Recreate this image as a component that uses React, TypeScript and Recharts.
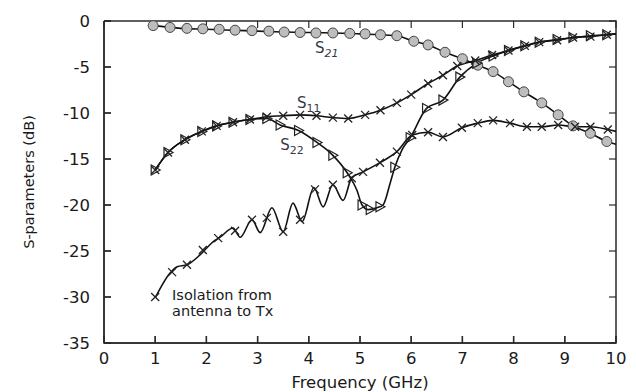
import { ComposedChart, Line, Scatter, XAxis, YAxis, ReferenceDot, Label } from "recharts";

// axis ranges and ticks
const xDomain = [0, 10];
const yDomain = [-35, 0];
const xTicks = [0, 1, 2, 3, 4, 5, 6, 7, 8, 9, 10];
const yTicks = [0, -5, -10, -15, -20, -25, -30, -35];

// traces as [GHz, dB]
const s21Line = [
  [1.0, -0.5], [1.5, -0.8], [2.0, -0.9], [2.5, -1.0], [3.0, -1.1], [3.5, -1.2], [4.0, -1.25],
  [4.5, -1.3], [5.0, -1.4], [5.4, -1.5], [5.72, -1.6], [6.05, -2.2], [6.33, -2.6], [6.66, -3.4],
  [7.0, -4.1], [7.3, -4.8], [7.6, -5.5], [7.9, -6.6], [8.2, -7.7], [8.55, -8.9], [8.87, -10.2],
  [9.16, -11.4], [9.5, -12.2], [9.82, -13.1], [10.0, -13.4],
];
const s21Marks = [
  [0.96, -0.5], [1.29, -0.7], [1.62, -0.8], [1.93, -0.85], [2.25, -0.9], [2.56, -1.0], [2.89, -1.05],
  [3.22, -1.1], [3.52, -1.2], [3.83, -1.25], [4.14, -1.3], [4.47, -1.3], [4.8, -1.35], [5.1, -1.4],
  [5.4, -1.5], [5.72, -1.6], [6.05, -2.2], [6.33, -2.6], [6.66, -3.4], [7.0, -4.1], [7.3, -4.8],
  [7.6, -5.5], [7.9, -6.6], [8.2, -7.7], [8.55, -8.9], [8.87, -10.2], [9.16, -11.4], [9.5, -12.2],
  [9.82, -13.1],
];

const s11Line = [
  [1.0, -16.2], [1.25, -14.3], [1.58, -12.9], [1.91, -12.0], [2.2, -11.4], [2.52, -11.0],
  [2.85, -10.7], [3.18, -10.4], [3.5, -10.3], [3.83, -10.2], [4.15, -10.3], [4.47, -10.5],
  [4.77, -10.6], [5.1, -10.2], [5.4, -9.7], [5.72, -8.9], [6.0, -8.0], [6.33, -6.8], [6.62, -5.9],
  [6.9, -4.9], [7.25, -4.3], [7.58, -3.7], [7.9, -3.2], [8.22, -2.7], [8.5, -2.3], [8.85, -2.1],
  [9.16, -1.8], [9.5, -1.7], [9.82, -1.5], [10.0, -1.4],
];
const s11Marks = [
  [1.0, -16.2], [1.25, -14.3], [1.58, -12.9], [1.91, -12.0], [2.2, -11.4], [2.52, -11.0],
  [2.85, -10.7], [3.18, -10.4], [3.5, -10.3], [3.83, -10.2], [4.15, -10.3], [4.47, -10.5],
  [4.77, -10.6], [5.1, -10.2], [5.4, -9.7], [5.72, -8.9], [6.0, -8.0], [6.33, -6.8], [6.62, -5.9],
  [6.9, -4.9], [7.25, -4.3], [7.58, -3.7], [7.9, -3.2], [8.22, -2.7], [8.5, -2.3], [8.85, -2.1],
  [9.16, -1.8], [9.5, -1.7], [9.82, -1.5],
];

const s22Line = [
  [1.0, -16.2], [1.25, -14.3], [1.58, -12.9], [1.91, -12.0], [2.2, -11.4], [2.52, -11.0],
  [2.85, -10.7], [3.18, -10.6], [3.44, -11.3], [3.8, -11.9], [4.16, -13.2], [4.47, -14.6],
  [4.75, -16.5], [4.94, -18.4], [5.04, -20.0], [5.16, -20.5], [5.33, -20.3], [5.45, -20.0],
  [5.59, -17.6], [5.68, -15.9], [5.82, -14.0], [5.98, -12.7], [6.3, -9.5], [6.62, -8.6],
  [6.95, -6.1], [7.28, -4.6], [7.6, -3.8], [7.9, -3.2], [8.22, -2.7], [8.5, -2.3], [8.85, -2.0],
  [9.16, -1.8], [9.5, -1.6], [9.82, -1.5], [10.0, -1.4],
];
const s22Marks = [
  [1.0, -16.2], [1.25, -14.3], [1.58, -12.9], [1.91, -12.0], [2.2, -11.4], [2.52, -11.0],
  [2.85, -10.7], [3.18, -10.6], [3.44, -11.3], [3.8, -11.9], [4.16, -13.2], [4.47, -14.6],
  [4.75, -16.5], [5.04, -20.0], [5.2, -20.5], [5.39, -20.2], [5.68, -15.9], [5.98, -12.7],
  [6.3, -9.5], [6.62, -8.6], [6.95, -6.1], [7.28, -4.6], [7.6, -3.8], [7.9, -3.2], [8.22, -2.7],
  [8.5, -2.3], [8.85, -2.0], [9.16, -1.8], [9.5, -1.6], [9.82, -1.5],
];

const isoLine = [
  [1.0, -30.1], [1.29, -27.4], [1.43, -26.7], [1.62, -26.5], [1.88, -25.4], [2.13, -24.0],
  [2.27, -23.5], [2.52, -22.5], [2.66, -23.5], [2.89, -21.6], [3.05, -23.0], [3.28, -20.3],
  [3.5, -22.9], [3.69, -19.8], [3.87, -21.8], [4.1, -18.1], [4.28, -20.2], [4.47, -17.8],
  [4.67, -19.5], [4.84, -17.0], [5.06, -16.4], [5.39, -15.4], [5.72, -14.2], [6.02, -12.4],
  [6.33, -12.1], [6.62, -12.6], [6.99, -11.6], [7.3, -11.1], [7.6, -10.8], [7.93, -11.1],
  [8.26, -11.5], [8.55, -11.5], [8.87, -11.3], [9.2, -11.5], [9.5, -11.5], [9.84, -11.8],
  [10.0, -12.0],
];
const isoMarks = [
  [1.0, -30.0], [1.33, -27.3], [1.62, -26.5], [1.93, -24.9], [2.23, -23.6], [2.56, -22.8],
  [2.89, -21.6], [3.18, -21.4], [3.5, -22.9], [3.83, -21.6], [4.12, -18.3], [4.47, -17.8],
  [4.84, -17.1], [5.06, -16.4], [5.39, -15.4], [5.72, -14.2], [6.02, -12.4], [6.33, -12.1],
  [6.62, -12.6], [6.99, -11.6], [7.3, -11.1], [7.6, -10.8], [7.93, -11.1], [8.26, -11.5],
  [8.55, -11.5], [8.87, -11.3], [9.2, -11.5], [9.5, -11.5], [9.84, -11.8],
];

const pts = (a: number[][]) => a.map(([f, db]) => ({ f, db }));

// built once so recharts sees stable references
const s21LineData = pts(s21Line);
const s21MarkData = pts(s21Marks);
const s11LineData = pts(s11Line);
const s11MarkData = pts(s11Marks);
const s22LineData = pts(s22Line);
const s22MarkData = pts(s22Marks);
const isoLineData = pts(isoLine);
const isoMarkData = pts(isoMarks);

// gnuplot-style box with inward ticks on every side, placed through the scales
const [x0, x1] = xDomain;
const [y0, y1] = yDomain;
const frameData = pts([[x0, y1], [x1, y1], [x1, y0], [x0, y0], [x0, y1]]);
const topTicks = xTicks.map((f) => ({ f, db: y1 }));
const bottomTicks = xTicks.map((f) => ({ f, db: y0 }));
const leftTicks = yTicks.map((db) => ({ f: x0, db }));
const rightTicks = yTicks.map((db) => ({ f: x1, db }));

const FONT = "DejaVu Sans";
const INK = "#1a1a1a";
const FRAME = "#2b2b2b";
const TICK = 7;
const tickFont = { fill: INK, fontSize: 16.5, fontFamily: FONT };

const tickMark = (dx: number, dy: number) => (p: any) => (
  <line x1={p.cx} y1={p.cy} x2={p.cx + dx} y2={p.cy + dy} stroke={FRAME} strokeWidth={1.2} />
);
const TopTick = tickMark(0, TICK);
const BottomTick = tickMark(0, -TICK);
const LeftTick = tickMark(TICK, 0);
const RightTick = tickMark(-TICK, 0);

const CircleMark = (p: any) => (
  <circle cx={p.cx} cy={p.cy} r={5} fill="#bdbdbd" stroke="#444444" strokeWidth={1} />
);
const CrossMark = (p: any) => {
  const { cx, cy } = p;
  const s = 4;
  return (
    <path
      d={`M${cx - s},${cy - s}L${cx + s},${cy + s}M${cx - s},${cy + s}L${cx + s},${cy - s}`}
      stroke="#222222"
      strokeWidth={1.3}
      fill="none"
    />
  );
};
const TriMark = (p: any) => {
  const { cx, cy } = p;
  return (
    <path
      d={`M${cx - 4},${cy - 5}L${cx + 5},${cy}L${cx - 4},${cy + 5}Z`}
      stroke="#222222"
      strokeWidth={1.2}
      fill="none"
    />
  );
};

const sLabel = (sub: string, italic: boolean) => (p: any) => (
  <text x={p.cx} y={p.cy} fill="#333a44" fontFamily={FONT} fontSize={15}>
    S
    <tspan fontSize={11} dy={4} fontStyle={italic ? "italic" : "normal"}>
      {sub}
    </tspan>
  </text>
);
const S21Label = sLabel("21", true);
const S11Label = sLabel("11", false);
const S22Label = sLabel("22", false);

const isoText = (s: string) => (p: any) => (
  <text x={p.cx} y={p.cy} fill={INK} fontFamily={FONT} fontSize={14.5}>
    {s}
  </text>
);
const IsoLine1 = isoText("Isolation from");
const IsoLine2 = isoText("antenna to Tx");

const YTitle = (p: any) => {
  const vb = p.viewBox;
  const cx = vb.x + 21;
  const cy = vb.y + vb.height / 2;
  return (
    <text
      x={cx}
      y={cy}
      transform={`rotate(-90 ${cx} ${cy})`}
      textAnchor="middle"
      dominantBaseline="central"
      fill={INK}
      fontFamily={FONT}
      fontSize={14.5}
    >
      S-parameters (dB)
    </text>
  );
};

export default function App() {
  return (
    <ComposedChart width={628} height={384} margin={{ top: 13, right: 20, bottom: 0, left: 0 }}>
      <XAxis
        xAxisId="b"
        type="number"
        dataKey="f"
        domain={xDomain}
        ticks={xTicks}
        height={49}
        stroke={FRAME}
        strokeWidth={1.5}
        tickSize={-7}
        tickMargin={16}
        tick={tickFont}
      >
        <Label value="Frequency (GHz)" position="insideBottom" offset={4} fill={INK} fontFamily={FONT} fontSize={16.5} />
      </XAxis>
      <YAxis
        yAxisId="l"
        type="number"
        dataKey="db"
        domain={yDomain}
        ticks={yTicks}
        width={96}
        stroke={FRAME}
        strokeWidth={1.5}
        tickSize={-7}
        tickMargin={21}
        tick={tickFont}
      >
        <Label content={YTitle} />
      </YAxis>

      {/* box and inward ticks */}
      <Line xAxisId="b" yAxisId="l" data={frameData} dataKey="db" type="linear" stroke={FRAME} strokeWidth={1.5} dot={false} isAnimationActive={false} />
      <Scatter xAxisId="b" yAxisId="l" data={topTicks} shape={TopTick} isAnimationActive={false} />
      <Scatter xAxisId="b" yAxisId="l" data={bottomTicks} shape={BottomTick} isAnimationActive={false} />
      <Scatter xAxisId="b" yAxisId="l" data={leftTicks} shape={LeftTick} isAnimationActive={false} />
      <Scatter xAxisId="b" yAxisId="l" data={rightTicks} shape={RightTick} isAnimationActive={false} />

      <Scatter xAxisId="b" yAxisId="l" data={s21MarkData} shape={CircleMark} isAnimationActive={false} />
      <Scatter xAxisId="b" yAxisId="l" data={s22MarkData} shape={TriMark} isAnimationActive={false} />
      <Scatter xAxisId="b" yAxisId="l" data={s11MarkData} shape={CrossMark} isAnimationActive={false} />
      <Scatter xAxisId="b" yAxisId="l" data={isoMarkData} shape={CrossMark} isAnimationActive={false} />

      <Line xAxisId="b" yAxisId="l" data={s21LineData} dataKey="db" type="monotone" stroke="#111111" strokeWidth={1.6} dot={false} isAnimationActive={false} />
      <Line xAxisId="b" yAxisId="l" data={s11LineData} dataKey="db" type="monotone" stroke="#111111" strokeWidth={1.6} dot={false} isAnimationActive={false} />
      <Line xAxisId="b" yAxisId="l" data={s22LineData} dataKey="db" type="monotone" stroke="#111111" strokeWidth={1.6} dot={false} isAnimationActive={false} />
      <Line xAxisId="b" yAxisId="l" data={isoLineData} dataKey="db" type="monotone" stroke="#111111" strokeWidth={1.6} dot={false} isAnimationActive={false} />

      <ReferenceDot xAxisId="b" yAxisId="l" x={4.12} y={-3.5} r={0} shape={S21Label} />
      <ReferenceDot xAxisId="b" yAxisId="l" x={3.77} y={-9.45} r={0} shape={S11Label} />
      <ReferenceDot xAxisId="b" yAxisId="l" x={3.44} y={-14.0} r={0} shape={S22Label} />
      <ReferenceDot xAxisId="b" yAxisId="l" x={1.33} y={-30.3} r={0} shape={IsoLine1} />
      <ReferenceDot xAxisId="b" yAxisId="l" x={1.33} y={-32.1} r={0} shape={IsoLine2} />
    </ComposedChart>
  );
}
